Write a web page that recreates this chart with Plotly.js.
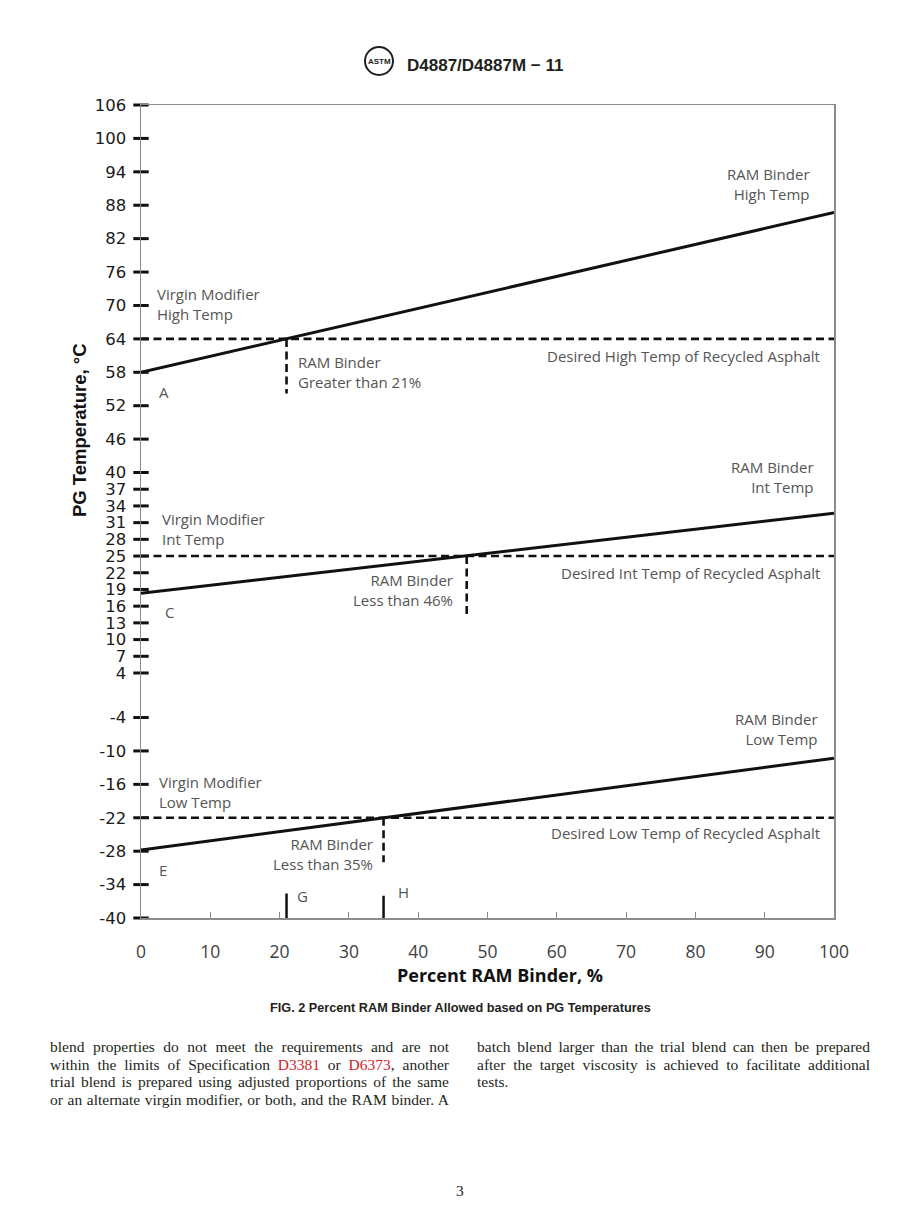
<!DOCTYPE html>
<html><head><meta charset="utf-8">
<script src="https://cdn.plot.ly/plotly-3.0.1.min.js"></script>
<style>
html,body{margin:0;padding:0;background:#fff;}
#page{position:relative;width:920px;height:1232px;overflow:hidden;background:#fff;}
#chart{position:absolute;left:0;top:0;width:920px;height:1232px;}
.col{position:absolute;font-family:"Liberation Serif","Times New Roman",serif;font-size:15.5px;line-height:17.7px;color:#231f20;}
.ln{white-space:nowrap;display:block;}
.ref{color:#d2232a;}
</style></head><body>
<div id="page">
<div id="chart"></div>
<div class="col" id="colL" style="left:50px;top:1038px;width:399px;"></div>
<div class="col" id="colR" style="left:477px;top:1038px;width:393px;"></div>
</div>
<script>
// ---------------- data ----------------
const yTickVals = [106,100,94,88,82,76,70,64,58,52,46,40,37,34,31,28,25,22,19,16,13,10,7,4,-4,-10,-16,-22,-28,-34,-40];
const xTickVals = [0,10,20,30,40,50,60,70,80,90,100];
const blendX = [0, 100];
const highTempLine = [58.0, 86.7];   // A -> B
const intTempLine = [18.3, 32.7];    // C -> D
const lowTempLine = [-27.8, -11.3];  // E -> F
const desiredHigh = 64;
const desiredInt = 25;
const desiredLow = -22;
const limitHighX = 21, limitHighBottom = 54.2;
const limitIntX = 47, limitIntBottom = 14.0;
const limitLowX = 35, limitLowBottom = -30.0;
const markerGX = 21, markerGTop = -35.6;
const markerHX = 35, markerHTop = -36.0;

const headerText = "D4887/D4887M \u2212 11";
const captionText = "FIG. 2 Percent RAM Binder Allowed based on PG Temperatures";
const pageNumber = "3";
const yTitle = "PG Temperature, \u00b0C";
const xTitle = "Percent RAM Binder, %";

const leftLines = [
  "blend properties do not meet the requirements and are not",
  "within the limits of Specification <span class='ref'>D3381</span> or <span class='ref'>D6373</span>, another",
  "trial blend is prepared using adjusted proportions of the same",
  "or an alternate virgin modifier, or both, and the RAM binder. A"
];
const rightLines = [
  "batch blend larger than the trial blend can then be prepared",
  "after the target viscosity is achieved to facilitate additional",
  "tests."
];

// ---------------- helpers ----------------
const PL = 141, PR = 834, PT = 105, PB = 918;
const px2x = p => (p - PL) / (PR - PL);
const py2y = p => (PB - p) / (PB - PT);

const annFont = {family: "Open Sans, sans-serif", size: 15, color: "#555555"};
const solid = {color: "#111111", width: 3};
const dashed = {color: "#111111", width: 2.6, dash: "8px,4.5px"};

function seg(x, y, line) {
  return {x: x, y: y, mode: "lines", line: line, hoverinfo: "skip", showlegend: false, cliponaxis: false};
}

const traces = [
  seg(blendX, [desiredHigh, desiredHigh], dashed),
  seg(blendX, [desiredInt, desiredInt], dashed),
  seg(blendX, [desiredLow, desiredLow], dashed),
  seg([limitHighX, limitHighX], [desiredHigh, limitHighBottom], dashed),
  seg([limitIntX, limitIntX], [desiredInt, limitIntBottom], dashed),
  seg([limitLowX, limitLowX], [desiredLow, limitLowBottom], dashed),
  seg(blendX, highTempLine, solid),
  seg(blendX, intTempLine, solid),
  seg(blendX, lowTempLine, solid),
  seg([markerGX, markerGX], [-40, markerGTop], {color: "#111", width: 2.5}),
  seg([markerHX, markerHX], [-40, markerHTop], {color: "#111", width: 2.5}),
  {x: yTickVals.map(() => 0), y: yTickVals, mode: "markers", cliponaxis: false,
   marker: {symbol: "line-ew", size: 11, color: "#111", line: {width: 3, color: "#111"}},
   hoverinfo: "skip", showlegend: false}
];

function lab(text, x, y, xanchor, align, font) {
  return {text: text, x: x, y: y, xref: "x", yref: "y", xanchor: xanchor, yanchor: "middle",
          align: align || xanchor, showarrow: false, font: font || annFont};
}

const annotations = [
  lab("Virgin Modifier<br>High Temp", 2.0, 70.2, "left"),
  lab("A", 2.3, 54.4, "left"),
  lab("RAM Binder<br>Greater than 21%", 22.4, 58.0, "left"),
  lab("RAM Binder<br>High Temp", 96.8, 91.8, "right"),
  lab("B", 101.2, 87.0, "left", "left", {family: "Liberation Serif, serif", size: 10, color: "#111", weight: "bold"}),
  lab("Desired High Temp of Recycled Asphalt", 98.3, 60.9, "right"),
  lab("RAM Binder<br>Int Temp", 97.4, 39.2, "right"),
  lab("D", 101.3, 32.7, "left"),
  lab("Virgin Modifier<br>Int Temp", 2.7, 29.9, "left"),
  lab("RAM Binder<br>Less than 46%", 45.3, 18.9, "right"),
  lab("Desired Int Temp of Recycled Asphalt", 98.3, 21.9, "right"),
  lab("C", 3.2, 14.9, "left"),
  lab("RAM Binder<br>Low Temp", 98.0, -6.0, "right"),
  lab("F", 101.3, -11.3, "left"),
  lab("Virgin Modifier<br>Low Temp", 2.3, -17.4, "left"),
  lab("RAM Binder<br>Less than 35%", 33.8, -28.5, "right"),
  lab("Desired Low Temp of Recycled Asphalt", 98.3, -24.8, "right"),
  lab("E", 2.3, -31.3, "left"),
  lab("G", 22.2, -36.1, "left"),
  lab("H", 36.8, -35.4, "left"),
  // axis titles
  {text: yTitle, textangle: -90, x: px2x(79), y: py2y(430), xref: "paper", yref: "paper",
   xanchor: "center", yanchor: "middle", showarrow: false,
   font: {family: "Liberation Sans, Arial, sans-serif", size: 18.5, color: "#111", weight: "bold"}},
  {text: xTitle, x: px2x(500), y: py2y(975), xref: "paper", yref: "paper",
   xanchor: "center", yanchor: "middle", showarrow: false,
   font: {family: "Open Sans, sans-serif", size: 18, color: "#111", weight: "bold"}},
  // page furniture
  {text: headerText, x: px2x(405), y: py2y(66), xref: "paper", yref: "paper",
   xanchor: "left", yanchor: "middle", showarrow: false,
   font: {family: "Liberation Sans, Arial, sans-serif", size: 17, color: "#231f20", weight: "bold"}},
  {text: "ASTM", x: px2x(379), y: py2y(61), xref: "paper", yref: "paper",
   xanchor: "center", yanchor: "middle", showarrow: false,
   font: {family: "Liberation Sans Narrow, Liberation Sans, sans-serif", size: 8, color: "#231f20", weight: "bold"}},
  {text: captionText, x: px2x(460), y: py2y(1008), xref: "paper", yref: "paper",
   xanchor: "center", yanchor: "middle", showarrow: false,
   font: {family: "Liberation Sans, Arial, sans-serif", size: 12.7, color: "#231f20", weight: "bold"}},
  {text: pageNumber, x: px2x(460), y: py2y(1190), xref: "paper", yref: "paper",
   xanchor: "center", yanchor: "middle", showarrow: false,
   font: {family: "Liberation Serif, Times New Roman, serif", size: 15.5, color: "#231f20"}}
];

const shapes = [
  {type: "circle", xref: "paper", yref: "paper", x0: px2x(365), x1: px2x(393), y0: py2y(75), y1: py2y(47),
   line: {color: "#231f20", width: 2}, fillcolor: "rgba(0,0,0,0)"}
];

const layout = {
  width: 920, height: 1232,
  margin: {l: PL, r: 920 - PR, t: PT, b: 1232 - PB, pad: 0},
  paper_bgcolor: "#ffffff", plot_bgcolor: "#ffffff",
  showlegend: false,
  xaxis: {range: [0, 100], tickvals: xTickVals, ticktext: xTickVals.map(String),
          showline: true, mirror: true, linecolor: "#8c8c8c", linewidth: 1.5,
          ticks: "inside", ticklen: 6, tickwidth: 1, tickcolor: "#8c8c8c",
          showgrid: false, zeroline: false, ticklabelstandoff: 17,
          tickfont: {family: "Open Sans, sans-serif", size: 17.5, color: "#404040"}},
  yaxis: {range: [-40, 106], tickvals: yTickVals, ticktext: yTickVals.map(String),
          showline: true, mirror: true, linecolor: "#8c8c8c", linewidth: 1.5,
          ticks: "", showgrid: false, zeroline: false, ticklabelstandoff: 10,
          tickfont: {family: "DejaVu Sans, sans-serif", size: 16.5, color: "#1a1a1a"}},
  annotations: annotations,
  shapes: shapes
};

Plotly.newPlot("chart", traces, layout, {displayModeBar: false, staticPlot: true});

// ---------------- body text (justified lines) ----------------
function fill(colId, lines, lastJustified) {
  const col = document.getElementById(colId);
  const W = col.clientWidth;
  lines.forEach((html, i) => {
    const d = document.createElement("div");
    d.className = "ln";
    const s = document.createElement("span");
    s.innerHTML = html;
    d.appendChild(s);
    col.appendChild(d);
    const justify = i < lines.length - 1 || lastJustified;
    if (justify) {
      const natural = s.getBoundingClientRect().width;
      const spaces = (s.textContent.match(/ /g) || []).length;
      if (spaces > 0) s.style.wordSpacing = ((W - natural) / spaces) + "px";
    }
  });
}
fill("colL", leftLines, true);
fill("colR", rightLines, false);
</script>
</body></html>
